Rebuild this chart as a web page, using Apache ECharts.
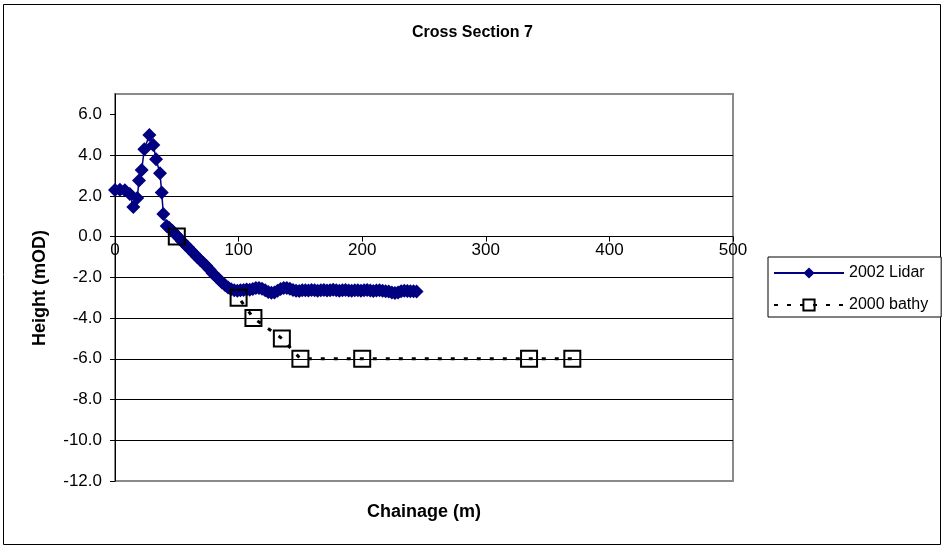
<!DOCTYPE html>
<html>
<head>
<meta charset="utf-8">
<script src="https://cdn.jsdelivr.net/npm/echarts@6/dist/echarts.min.js"></script>
<style>html,body{margin:0;padding:0;background:#fff}#c{width:945px;height:547px}</style>
</head>
<body>
<div id="c"></div>
<script>
var titleText = 'Cross Section 7';
var xAxisName = 'Chainage (m)';
var yAxisName = 'Height (mOD)';
var lidarName = '2002 Lidar';
var bathyName = '2000 bathy';

var lidarChainage = [0,4,8,12,14.8,18,19.4,21.6,23.7,27.8,31,33.2,36.4,37.8,39.1,41.8,
  44,46.5,49,51.5,54,56.5,59,61.5,64,66.5,69,71.5,74,76.5,79,81.5,84,86.5,89,91.5,94,96.5,99,
  101.5,104,106.5,109,111.5,114,116.5,119,121.5,124,126.5,129,131.5,134,136.5,139,141.5,144,146.5,149,
  151.5,154,156.5,159,161.5,164,166.5,169,171.5,174,176.5,179,181.5,184,186.5,189,191.5,194,196.5,199,
  201.5,204,206.5,209,211.5,214,216.5,219,221.5,224,226.5,229,231.5,234,236.5,239,241.5,244];
var lidarHeight = [2.29,2.3,2.27,2.09,1.45,1.9,2.75,3.27,4.29,4.99,4.5,3.8,3.11,2.16,1.11,0.52,
  0.42,0.28,0.12,-0.05,-0.22,-0.38,-0.52,-0.68,-0.84,-1.0,-1.15,-1.3,-1.45,-1.62,-1.8,-1.95,-2.1,-2.25,-2.38,-2.5,-2.58,-2.63,-2.66,
  -2.64,-2.62,-2.6,-2.61,-2.57,-2.53,-2.52,-2.56,-2.64,-2.72,-2.76,-2.74,-2.66,-2.57,-2.53,-2.52,-2.56,-2.62,-2.66,-2.67,
  -2.64,-2.63,-2.65,-2.62,-2.64,-2.66,-2.63,-2.62,-2.65,-2.64,-2.61,-2.64,-2.66,-2.63,-2.62,-2.65,-2.66,-2.63,-2.64,-2.66,
  -2.64,-2.62,-2.65,-2.67,-2.65,-2.64,-2.66,-2.68,-2.7,-2.74,-2.77,-2.74,-2.68,-2.66,-2.67,-2.68,-2.69,-2.7];

var bathyChainage = [50,100,112,135,150,200,335,370];
var bathyHeight = [0,-3,-4,-5,-6,-6,-6,-6];

var xTicks = [0,100,200,300,400,500];
var yTicks = [-12,-10,-8,-6,-4,-2,0,2,4,6];

function pairs(xs, ys){ return xs.map(function(x,i){ return [x, ys[i]]; }); }

var FONT = 'Liberation Sans, Arial, sans-serif';
var GRID_TOP = 94, GRID_BOTTOM_PX = 481, Y_MIN = -12, Y_MAX = 7;
// distance from the bottom edge of the plot up to the y = 0 line
var zeroOffset = (0 - Y_MIN) / (Y_MAX - Y_MIN) * (GRID_BOTTOM_PX - GRID_TOP);

var chart = echarts.init(document.getElementById('c'), null, {renderer:'canvas'});
chart.setOption({
  animation:false,
  backgroundColor:'#fff',
  title:{text:titleText, left:'center', top:20, textStyle:{fontFamily:FONT, fontSize:16, fontWeight:'bold', color:'#000'}},
  grid:{left:115, top:GRID_TOP, right:212, bottom:547-GRID_BOTTOM_PX, show:true, borderColor:'#8a8a8a', borderWidth:2, backgroundColor:'transparent'},
  legend:{
    orient:'vertical', left:768, top:257, padding:[8,13,4,5], itemGap:16, itemWidth:70, itemHeight:14,
    borderColor:'#000', borderWidth:1, backgroundColor:'#fff',
    textStyle:{fontFamily:FONT, fontSize:16, color:'#000'},
    data:[lidarName, bathyName]
  },
  xAxis:{
    type:'value', min:0, max:500, interval:100, position:'bottom', offset:-zeroOffset,
    axisLine:{onZero:false, lineStyle:{color:'#000', width:1}},
    axisTick:{show:true, length:5, lineStyle:{color:'#000'}},
    axisLabel:{fontFamily:FONT, fontSize:17, color:'#000', margin:5},
    splitLine:{show:false}
  },
  yAxis:{
    type:'value', min:Y_MIN, max:Y_MAX, interval:2,
    axisLine:{show:true, onZero:false, lineStyle:{color:'#000', width:1}},
    axisTick:{show:true, length:5, lineStyle:{color:'#000'}, customValues:yTicks},
    axisLabel:{fontFamily:FONT, fontSize:17, color:'#000', margin:13, customValues:yTicks,
      formatter:function(v){ return Number(v).toFixed(1); }},
    splitLine:{show:true, showMinLine:false, showMaxLine:false, lineStyle:{color:'#000', width:1}}
  },
  graphic:[
    {type:'rect', shape:{x:3.5, y:4.5, width:937, height:540}, style:{fill:'none', stroke:'#000', lineWidth:1}, z:-10, silent:true},
    {type:'text', x:424, y:512, style:{text:xAxisName, font:'bold 18px Liberation Sans, Arial, sans-serif', fill:'#000', textAlign:'center', textVerticalAlign:'middle'}},
    {type:'text', x:40, y:288, rotation:Math.PI/2, style:{text:yAxisName, font:'bold 18px Liberation Sans, Arial, sans-serif', fill:'#000', textAlign:'center', textVerticalAlign:'middle'}}
  ],
  series:[
    {name:lidarName, type:'line', data:pairs(lidarChainage, lidarHeight),
      symbol:'diamond', symbolSize:14, showAllSymbol:true,
      lineStyle:{color:'#000080', width:1.5}, itemStyle:{color:'#000080'}},
    {name:bathyName, type:'line', data:pairs(bathyChainage, bathyHeight),
      symbol:'rect', symbolSize:16, showAllSymbol:true,
      lineStyle:{color:'#000', width:3, type:[4,9]},
      itemStyle:{color:'rgba(255,255,255,0)', borderColor:'#000', borderWidth:2}}
  ]
});
</script>
</body>
</html>
